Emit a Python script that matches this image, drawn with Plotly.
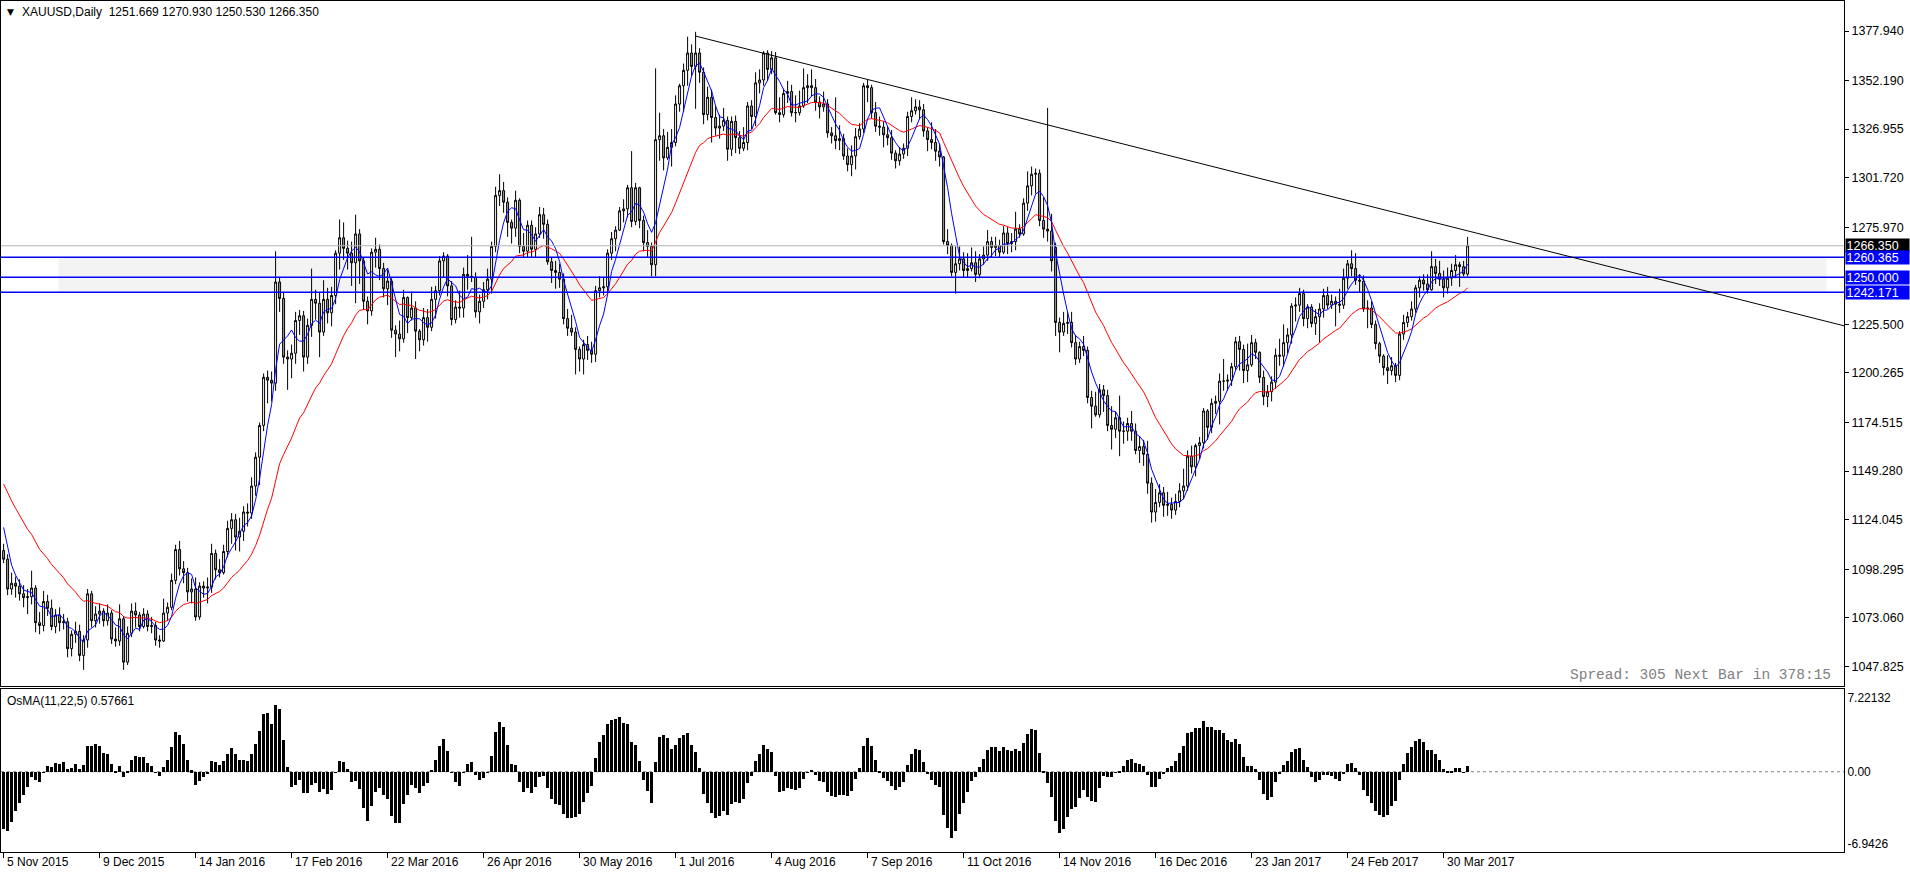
import numpy as np
import pandas as pd
import plotly.graph_objects as go

# ---------------- data ----------------
# off-screen closes (Sep 1 - Nov 4 2015) used only to warm up the indicators
pre_closes = [1139.5, 1133.5, 1124.5, 1121.0, 1121.5, 1121.0, 1108.5, 1110.5, 1107.5, 1108.5,
              1102.5, 1118.5, 1117.5, 1137.5, 1132.5, 1124.0, 1131.0, 1153.0, 1145.5, 1131.5,
              1126.5, 1114.5, 1113.5, 1137.0, 1137.5, 1146.0, 1146.0, 1143.0, 1156.5, 1163.0,
              1166.5, 1186.5, 1186.0, 1177.0, 1171.5, 1176.5, 1166.0, 1166.0, 1162.0, 1163.0,
              1166.5, 1156.0, 1146.5, 1142.0, 1135.5, 1115.0, 1104.0]

closes = [
 1103.5, 1088.0, 1091.0, 1089.5, 1085.5, 1083.5, 1084.0, 1088.5, 1070.5, 1069.0,
 1081.5, 1078.0, 1068.5, 1074.5, 1070.5, 1071.0, 1057.0, 1064.5, 1066.0, 1053.5,
 1061.5, 1085.5, 1071.5, 1075.0, 1076.5, 1071.5, 1075.5, 1062.0, 1061.0, 1072.5,
 1050.0, 1065.0, 1076.5, 1074.5, 1068.5, 1075.0, 1068.5, 1069.0, 1061.5, 1061.0,
 1075.5, 1078.5, 1092.5, 1108.5, 1098.5, 1096.5, 1086.5, 1088.0, 1073.5, 1089.5,
 1088.5, 1089.0, 1106.5, 1098.0, 1096.5, 1107.5, 1119.5, 1124.0, 1115.0, 1118.0,
 1128.0, 1127.5, 1141.5, 1156.5, 1173.0, 1198.0, 1196.5, 1195.0, 1247.5, 1239.0,
 1208.5, 1207.5, 1210.5, 1227.5, 1230.0, 1208.5, 1225.0, 1238.5, 1236.5, 1221.5,
 1238.5, 1231.5, 1240.5, 1262.5, 1270.5, 1265.0, 1262.5, 1257.5, 1272.5, 1258.5,
 1237.5, 1232.5, 1263.0, 1264.5, 1254.5, 1244.0, 1248.0, 1222.5, 1220.5, 1218.0,
 1239.5, 1229.0, 1234.0, 1222.0, 1217.5, 1229.0, 1224.0, 1238.5, 1243.0, 1258.5,
 1261.0, 1245.5, 1228.0, 1234.5, 1234.0, 1251.5, 1250.5, 1250.0, 1232.0, 1237.5,
 1243.5, 1249.0, 1266.0, 1292.5, 1295.0, 1289.0, 1278.5, 1275.5, 1290.0, 1266.0,
 1263.5, 1277.0, 1264.5, 1272.5, 1282.5, 1277.5, 1258.0, 1253.5, 1252.5, 1249.0,
 1228.5, 1223.5, 1221.5, 1212.5, 1207.5, 1215.0, 1212.0, 1210.0, 1243.0, 1244.5,
 1245.0, 1262.5, 1270.0, 1274.5, 1284.5, 1285.5, 1296.5, 1279.0, 1296.5, 1279.5,
 1268.0, 1266.0, 1256.5, 1321.5, 1323.5, 1312.0, 1317.5, 1320.0, 1340.0, 1349.5,
 1357.5, 1366.5, 1359.5, 1366.5, 1356.5, 1334.5, 1343.5, 1333.0, 1327.5, 1328.5,
 1331.5, 1316.5, 1331.0, 1322.5, 1317.0, 1320.0, 1339.0, 1333.5, 1351.0, 1352.5,
 1366.5, 1358.0, 1364.0, 1335.5, 1334.5, 1345.5, 1346.5, 1335.5, 1335.5, 1339.0,
 1348.5, 1349.5, 1348.5, 1341.0, 1338.5, 1340.0, 1325.0, 1323.5, 1321.0, 1322.0,
 1313.0, 1308.5, 1313.0, 1323.0, 1327.0, 1349.5, 1348.5, 1335.5, 1328.5, 1328.0,
 1324.0, 1322.5, 1314.5, 1310.5, 1314.0, 1317.0, 1333.5, 1336.5, 1338.5, 1337.0,
 1326.0, 1321.5, 1320.0, 1315.5, 1312.5, 1268.5, 1266.5, 1252.5, 1257.0, 1259.5,
 1253.5, 1254.5, 1257.5, 1251.5, 1259.5, 1261.5, 1268.5, 1265.5, 1266.5, 1263.0,
 1273.0, 1267.5, 1268.5, 1275.0, 1272.5, 1288.5, 1297.5, 1303.5, 1304.0, 1279.5,
 1275.0, 1274.0, 1258.5, 1226.5, 1221.5, 1226.0, 1226.5, 1216.0, 1207.5, 1214.0,
 1212.0, 1187.5, 1183.0, 1178.5, 1191.5, 1188.5, 1173.0, 1171.0, 1177.0, 1170.0,
 1170.0, 1174.0, 1170.0, 1160.0, 1162.0, 1158.0, 1143.0, 1128.0, 1133.0, 1138.0,
 1131.5, 1132.0, 1129.0, 1133.5, 1139.0, 1141.5, 1157.0, 1151.5, 1162.5, 1164.0,
 1180.5, 1172.0, 1184.5, 1185.5, 1196.0, 1196.0, 1196.5, 1203.5, 1216.5, 1212.5,
 1201.5, 1204.5, 1216.0, 1211.0, 1198.0, 1188.0, 1190.5, 1195.5, 1209.5, 1209.0,
 1216.0, 1220.0, 1235.0, 1235.5, 1241.5, 1228.5, 1234.5, 1226.0, 1229.5, 1233.5,
 1240.5, 1235.5, 1237.5, 1236.0, 1235.5, 1249.5, 1257.0, 1254.5, 1248.5, 1248.0,
 1233.5, 1234.0, 1225.5, 1215.5, 1209.0, 1203.0, 1201.5, 1204.0, 1199.0, 1220.5,
 1226.5, 1229.5, 1233.5, 1244.5, 1248.5, 1246.5, 1243.5, 1255.5, 1252.0, 1249.0,
 1244.5, 1249.5, 1253.5, 1256.5, 1255.5, 1251.7, 1266.35]

opens = [
 1108.0, 1103.5, 1088.0, 1091.0, 1089.5, 1085.5, 1083.5, 1084.0, 1088.5, 1070.5,
 1069.0, 1081.5, 1078.0, 1068.5, 1074.5, 1070.5, 1071.0, 1057.0, 1064.5, 1066.0,
 1053.5, 1061.5, 1085.5, 1071.5, 1075.0, 1076.5, 1071.5, 1075.5, 1062.0, 1061.0,
 1072.5, 1050.0, 1065.0, 1076.5, 1074.5, 1068.5, 1075.0, 1068.5, 1069.0, 1061.5,
 1061.0, 1075.5, 1078.5, 1092.5, 1108.5, 1098.5, 1096.5, 1086.5, 1088.0, 1073.5,
 1089.5, 1088.5, 1089.0, 1106.5, 1098.0, 1096.5, 1107.5, 1119.5, 1124.0, 1115.0,
 1118.0, 1128.0, 1127.5, 1141.5, 1156.5, 1173.0, 1198.0, 1196.5, 1195.0, 1247.5,
 1239.0, 1208.5, 1207.5, 1210.5, 1227.5, 1230.0, 1208.5, 1225.0, 1238.5, 1236.5,
 1221.5, 1238.5, 1231.5, 1240.5, 1262.5, 1270.5, 1265.0, 1262.5, 1257.5, 1272.5,
 1258.5, 1237.5, 1232.5, 1263.0, 1264.5, 1254.5, 1244.0, 1248.0, 1222.5, 1220.5,
 1218.0, 1239.5, 1229.0, 1234.0, 1222.0, 1217.5, 1229.0, 1224.0, 1238.5, 1243.0,
 1258.5, 1261.0, 1245.5, 1228.0, 1234.5, 1234.0, 1251.5, 1250.5, 1250.0, 1232.0,
 1237.5, 1243.5, 1249.0, 1266.0, 1292.5, 1295.0, 1289.0, 1278.5, 1275.5, 1290.0,
 1266.0, 1263.5, 1277.0, 1264.5, 1272.5, 1282.5, 1277.5, 1258.0, 1253.5, 1252.5,
 1249.0, 1228.5, 1223.5, 1221.5, 1212.5, 1207.5, 1215.0, 1212.0, 1210.0, 1243.0,
 1244.5, 1245.0, 1262.5, 1270.0, 1274.5, 1284.5, 1285.5, 1296.5, 1279.0, 1296.5,
 1279.5, 1268.0, 1266.0, 1256.5, 1321.5, 1323.5, 1312.0, 1317.5, 1320.0, 1340.0,
 1349.5, 1357.5, 1366.5, 1359.5, 1366.5, 1356.5, 1334.5, 1343.5, 1333.0, 1327.5,
 1328.5, 1331.5, 1316.5, 1331.0, 1322.5, 1317.0, 1320.0, 1339.0, 1333.5, 1351.0,
 1352.5, 1366.5, 1358.0, 1364.0, 1335.5, 1334.5, 1345.5, 1346.5, 1335.5, 1335.5,
 1339.0, 1348.5, 1349.5, 1348.5, 1341.0, 1338.5, 1340.0, 1325.0, 1323.5, 1321.0,
 1322.0, 1313.0, 1308.5, 1313.0, 1323.0, 1327.0, 1349.5, 1348.5, 1335.5, 1328.5,
 1328.0, 1324.0, 1322.5, 1314.5, 1310.5, 1314.0, 1317.0, 1333.5, 1336.5, 1338.5,
 1337.0, 1326.0, 1321.5, 1320.0, 1315.5, 1312.5, 1268.5, 1266.5, 1252.5, 1257.0,
 1259.5, 1253.5, 1254.5, 1257.5, 1251.5, 1259.5, 1261.5, 1268.5, 1265.5, 1266.5,
 1263.0, 1273.0, 1267.5, 1268.5, 1275.0, 1272.5, 1288.5, 1297.5, 1303.5, 1304.0,
 1279.5, 1275.0, 1274.0, 1265.5, 1226.5, 1221.5, 1226.0, 1226.5, 1216.0, 1207.5,
 1214.0, 1212.0, 1187.5, 1183.0, 1178.5, 1191.5, 1188.5, 1173.0, 1171.0, 1177.0,
 1170.0, 1170.0, 1174.0, 1170.0, 1160.0, 1162.0, 1158.0, 1143.0, 1128.0, 1133.0,
 1138.0, 1131.5, 1132.0, 1129.0, 1133.5, 1139.0, 1141.5, 1157.0, 1151.5, 1162.5,
 1164.0, 1180.5, 1172.0, 1184.5, 1185.5, 1196.0, 1196.0, 1196.5, 1203.5, 1216.5,
 1212.5, 1201.5, 1204.5, 1216.0, 1211.0, 1198.0, 1188.0, 1190.5, 1195.5, 1209.5,
 1209.0, 1216.0, 1220.0, 1235.0, 1235.5, 1241.5, 1228.5, 1234.5, 1226.0, 1229.5,
 1233.5, 1240.5, 1235.5, 1237.5, 1236.0, 1235.5, 1249.5, 1257.0, 1254.5, 1248.5,
 1248.0, 1233.5, 1234.0, 1225.5, 1215.5, 1209.0, 1203.0, 1201.5, 1204.0, 1199.0,
 1220.5, 1226.5, 1229.5, 1233.5, 1244.5, 1248.5, 1246.5, 1243.5, 1255.5, 1252.0,
 1249.0, 1244.5, 1249.5, 1253.5, 1256.5, 1255.5, 1251.669]

highs = [
 1111.5, 1106.0, 1096.5, 1094.5, 1093.0, 1090.0, 1088.0, 1097.5, 1090.0, 1076.0,
 1087.0, 1085.0, 1082.5, 1077.5, 1078.5, 1075.0, 1073.0, 1066.5, 1071.0, 1069.5,
 1064.0, 1088.0, 1087.0, 1079.0, 1080.5, 1078.0, 1080.0, 1077.0, 1068.0, 1080.0,
 1074.0, 1068.5, 1080.5, 1081.0, 1076.0, 1078.0, 1077.0, 1073.5, 1071.0, 1064.0,
 1083.0, 1081.0, 1096.0, 1111.0, 1113.0, 1102.5, 1099.0, 1093.5, 1094.0, 1091.5,
 1092.0, 1094.0, 1111.5, 1108.5, 1103.5, 1111.0, 1123.5, 1127.5, 1127.0, 1125.0,
 1131.0, 1132.5, 1146.0, 1159.0, 1174.5, 1200.0, 1201.5, 1201.0, 1263.5, 1250.0,
 1242.0, 1212.0, 1215.0, 1232.0, 1233.0, 1232.5, 1228.5, 1254.5, 1243.5, 1242.0,
 1248.5, 1244.5, 1245.0, 1264.0, 1280.0, 1278.5, 1269.0, 1268.5, 1282.5, 1275.0,
 1260.0, 1240.0, 1265.0, 1270.5, 1267.0, 1257.5, 1254.0, 1249.5, 1225.0, 1227.5,
 1243.5, 1240.0, 1242.5, 1237.5, 1223.0, 1234.0, 1233.5, 1245.0, 1245.5, 1261.0,
 1263.0, 1262.0, 1248.0, 1238.0, 1243.0, 1255.0, 1261.5, 1271.0, 1252.5, 1241.0,
 1247.5, 1254.5, 1268.5, 1297.0, 1303.5, 1299.5, 1291.5, 1280.0, 1295.0, 1291.0,
 1273.0, 1279.5, 1279.5, 1276.0, 1286.5, 1286.0, 1280.0, 1260.0, 1258.5, 1257.0,
 1252.0, 1233.5, 1230.5, 1224.0, 1214.0, 1217.5, 1219.5, 1216.5, 1245.5, 1250.5,
 1250.0, 1264.5, 1273.5, 1276.5, 1286.5, 1290.5, 1298.0, 1315.5, 1299.0, 1297.0,
 1282.0, 1274.5, 1268.0, 1358.5, 1335.5, 1327.0, 1325.5, 1327.0, 1344.5, 1350.5,
 1361.0, 1375.0, 1371.0, 1377.5, 1369.0, 1359.0, 1349.0, 1347.5, 1339.0, 1334.5,
 1338.0, 1333.5, 1333.5, 1334.0, 1326.0, 1328.0, 1341.0, 1342.0, 1356.5, 1358.0,
 1367.5, 1368.0, 1367.5, 1367.0, 1343.5, 1348.0, 1352.0, 1350.0, 1344.5, 1347.0,
 1358.5, 1355.5, 1358.0, 1353.0, 1344.0, 1346.5, 1342.5, 1328.0, 1343.5, 1329.0,
 1324.5, 1317.0, 1318.5, 1327.5, 1330.0, 1351.0, 1352.5, 1350.0, 1341.0, 1333.5,
 1331.0, 1328.5, 1326.5, 1316.0, 1317.5, 1319.5, 1336.0, 1343.5, 1342.5, 1342.0,
 1340.0, 1328.0, 1330.5, 1327.0, 1319.5, 1313.0, 1275.0, 1267.5, 1266.0, 1266.0,
 1263.0, 1262.5, 1265.5, 1263.5, 1262.0, 1266.0, 1274.5, 1271.0, 1271.0, 1269.5,
 1276.5, 1276.0, 1273.0, 1284.0, 1277.5, 1291.0, 1305.0, 1307.5, 1306.5, 1306.0,
 1291.5, 1338.0, 1283.0, 1268.0, 1229.0, 1232.0, 1232.0, 1232.0, 1220.0, 1216.5,
 1219.5, 1214.0, 1191.0, 1190.5, 1194.5, 1194.0, 1191.5, 1183.0, 1180.0, 1188.5,
 1175.0, 1177.0, 1180.5, 1174.0, 1167.5, 1165.5, 1165.0, 1146.0, 1140.0, 1142.5,
 1141.0, 1138.5, 1135.5, 1137.5, 1143.0, 1150.5, 1160.0, 1162.5, 1163.5, 1167.0,
 1182.0, 1181.5, 1187.0, 1188.5, 1200.0, 1207.5, 1199.5, 1205.5, 1219.0, 1219.5,
 1215.0, 1215.5, 1220.0, 1218.0, 1211.5, 1201.5, 1194.0, 1198.5, 1213.0, 1218.0,
 1225.5, 1223.5, 1236.5, 1239.5, 1244.5, 1243.5, 1236.0, 1236.0, 1233.5, 1236.5,
 1244.0, 1245.0, 1241.0, 1240.0, 1244.0, 1254.5, 1259.0, 1264.0, 1262.5, 1251.5,
 1251.0, 1238.0, 1237.5, 1227.5, 1216.5, 1210.0, 1209.5, 1208.5, 1205.5, 1222.0,
 1230.5, 1232.0, 1237.5, 1246.0, 1250.5, 1251.5, 1251.5, 1263.5, 1259.5, 1258.5,
 1253.5, 1255.0, 1257.0, 1261.5, 1258.0, 1258.5, 1270.93]

lows = [
 1101.5, 1084.8, 1085.0, 1083.5, 1082.0, 1078.5, 1075.0, 1080.0, 1065.5, 1064.5,
 1066.0, 1074.0, 1066.5, 1065.0, 1066.0, 1067.0, 1052.5, 1053.0, 1060.0, 1050.5,
 1046.0, 1057.5, 1068.0, 1068.0, 1070.0, 1068.5, 1069.0, 1059.5, 1058.0, 1058.5,
 1046.0, 1048.5, 1063.0, 1068.0, 1066.0, 1067.5, 1066.0, 1065.0, 1058.5, 1057.5,
 1060.5, 1071.5, 1077.0, 1090.5, 1095.0, 1091.0, 1081.5, 1080.5, 1071.5, 1072.0,
 1083.5, 1080.5, 1086.0, 1093.0, 1094.0, 1095.5, 1104.5, 1111.5, 1108.0, 1107.5,
 1113.0, 1120.5, 1124.5, 1136.5, 1142.0, 1170.0, 1184.5, 1185.5, 1191.0, 1232.0,
 1205.0, 1191.5, 1197.5, 1205.0, 1220.0, 1201.0, 1205.0, 1219.0, 1228.0, 1208.5,
 1219.5, 1226.0, 1224.5, 1236.0, 1254.0, 1259.0, 1254.0, 1245.5, 1236.5, 1246.5,
 1233.0, 1225.5, 1230.0, 1255.0, 1248.5, 1239.5, 1235.5, 1218.5, 1208.5, 1211.5,
 1216.0, 1221.0, 1227.5, 1207.5, 1211.5, 1214.5, 1216.5, 1222.0, 1228.5, 1240.5,
 1250.0, 1240.0, 1225.0, 1226.0, 1229.0, 1229.0, 1243.5, 1247.5, 1229.0, 1226.0,
 1234.0, 1238.5, 1241.5, 1263.0, 1287.0, 1283.5, 1271.0, 1267.5, 1271.0, 1262.5,
 1260.5, 1260.0, 1260.0, 1260.5, 1270.5, 1270.0, 1256.5, 1247.0, 1244.0, 1244.5,
 1225.5, 1219.5, 1219.5, 1199.5, 1201.0, 1199.5, 1207.0, 1205.5, 1206.0, 1239.5,
 1240.5, 1241.5, 1259.0, 1263.5, 1274.0, 1278.5, 1281.0, 1276.0, 1277.0, 1275.5,
 1263.5, 1260.0, 1250.5, 1250.5, 1310.5, 1305.5, 1311.0, 1307.5, 1318.0, 1336.0,
 1336.0, 1349.5, 1354.5, 1337.5, 1351.0, 1329.5, 1331.5, 1320.0, 1323.5, 1322.0,
 1326.0, 1310.5, 1313.0, 1314.5, 1314.0, 1315.5, 1316.0, 1327.0, 1328.5, 1345.5,
 1349.5, 1352.0, 1355.5, 1334.5, 1330.5, 1333.0, 1340.5, 1333.5, 1330.5, 1334.0,
 1338.0, 1340.5, 1344.0, 1336.5, 1332.5, 1336.0, 1322.5, 1319.5, 1316.5, 1316.0,
 1311.0, 1305.0, 1302.5, 1306.0, 1321.5, 1325.0, 1341.0, 1332.5, 1325.5, 1323.5,
 1317.5, 1318.5, 1311.0, 1306.5, 1308.0, 1311.5, 1313.0, 1330.5, 1334.5, 1332.0,
 1323.0, 1315.5, 1316.5, 1310.5, 1307.5, 1267.0, 1262.0, 1250.5, 1241.5, 1253.5,
 1250.0, 1250.0, 1253.0, 1247.5, 1249.5, 1256.5, 1258.5, 1260.0, 1261.0, 1260.5,
 1262.0, 1262.0, 1263.0, 1264.0, 1270.5, 1271.5, 1284.5, 1292.5, 1293.5, 1276.5,
 1270.5, 1268.5, 1253.0, 1219.5, 1211.0, 1219.5, 1220.5, 1213.5, 1204.5, 1205.5,
 1209.0, 1184.5, 1171.5, 1177.5, 1177.0, 1180.0, 1170.0, 1160.5, 1166.5, 1157.0,
 1163.5, 1165.0, 1165.0, 1158.0, 1153.5, 1152.0, 1137.5, 1122.5, 1123.0, 1130.5,
 1125.5, 1126.0, 1124.5, 1126.5, 1130.5, 1134.5, 1139.0, 1148.0, 1146.5, 1155.5,
 1161.0, 1165.5, 1169.0, 1179.0, 1173.5, 1191.0, 1191.0, 1193.5, 1201.5, 1201.5,
 1195.0, 1195.5, 1203.5, 1207.5, 1195.0, 1183.5, 1182.5, 1185.5, 1192.0, 1204.0,
 1203.5, 1210.5, 1215.5, 1227.0, 1232.0, 1224.5, 1223.5, 1224.0, 1220.0, 1216.0,
 1229.0, 1233.5, 1233.5, 1224.5, 1231.5, 1233.5, 1244.0, 1250.5, 1246.0, 1242.0,
 1232.0, 1223.5, 1223.5, 1212.5, 1205.5, 1199.0, 1194.5, 1199.0, 1195.5, 1196.5,
 1217.5, 1224.0, 1227.5, 1231.5, 1239.5, 1243.0, 1241.5, 1243.0, 1246.5, 1245.5,
 1239.5, 1241.5, 1245.5, 1249.5, 1245.0, 1250.5, 1250.53]

# x-axis labels (one every 24 daily bars)
date_tick_bars = [0, 24, 48, 72, 96, 120, 144, 168, 192, 216, 240, 264, 288, 312, 336, 360]
date_tick_labels = ["5 Nov 2015", "9 Dec 2015", "14 Jan 2016", "17 Feb 2016", "22 Mar 2016",
                    "26 Apr 2016", "30 May 2016", "1 Jul 2016", "4 Aug 2016", "7 Sep 2016",
                    "11 Oct 2016", "14 Nov 2016", "16 Dec 2016", "23 Jan 2017", "24 Feb 2017",
                    "30 Mar 2017"]
price_ticks = [1377.940, 1352.190, 1326.955, 1301.720, 1275.970, 1225.500, 1200.265,
               1174.515, 1149.280, 1124.045, 1098.295, 1073.060, 1047.825]
price_tick_labels = ["1377.940", "1352.190", "1326.955", "1301.720", "1275.970", "1225.500",
                     "1200.265", "1174.515", "1149.280", "1124.045", "1098.295", "1073.060",
                     "1047.825"]
osma_ticks = [7.22132, 0.0, -6.9426]
osma_tick_labels = ["7.22132", "0.00", "-6.9426"]

blue_levels = [1260.365, 1250.000, 1242.171]
blue_level_labels = ["1260.365", "1250.000", "1242.171"]
zone_bars = [13.7, 455.7]
zone_prices = [1242.171, 1260.365]
trend_bars = [173, 366]
trend_prices = [1375.3, 1274.1]

title_text = "XAUUSD,Daily\u00a0\u00a01251.669 1270.930 1250.530 1266.350"
osma_text = "OsMA(11,22,5) 0.57661"
spread_text = "Spread: 305 Next Bar in 378:15"

# ---------------- indicators ----------------
n = len(closes)
allc = np.array(pre_closes + closes, dtype=float)
npre = len(pre_closes)


def ema(a, p):
    k = 2.0 / (p + 1)
    out = np.empty_like(a)
    out[0] = a[0]
    for i in range(1, len(a)):
        out[i] = out[i - 1] + k * (a[i] - out[i - 1])
    return out


sma5 = pd.Series(allc).rolling(5).mean().values[npre:]
ema22 = ema(allc, 22)[npre:]
macd = ema(allc, 11) - ema(allc, 22)
signal = pd.Series(macd).rolling(5).mean().values
osma = (macd - signal)[npre:]

bars = np.arange(n)

# ---------------- geometry ----------------
W, H = 1910, 874
ML, MR, MT, MB = 1, 66, 1, 22
PW, PH = W - ML - MR, H - MT - MB


def fx(px):
    return (px - ML) / PW


def fy(px):
    return 1 - (px - MT) / PH


X0 = -(3.6 - ML) / 4.0
X1 = X0 + PW / 4.0
MAIN_TOP, MAIN_BOT = 1, 686
OS_TOP, OS_BOT = 688.5, 852
SLOPE = 0.5196
P_TOP = 1377.94 + (31 - MAIN_TOP) * SLOPE
P_BOT = 1377.94 - (MAIN_BOT - 31) * SLOPE
OS_SCALE = 10.31
OS_TOPV = 7.22132 + (697.3 - OS_TOP) / OS_SCALE
OS_BOTV = -6.9426 - (OS_BOT - 843.3) / OS_SCALE

FONT = "Liberation Sans"

fig = go.Figure()

fig.add_trace(go.Candlestick(
    x=bars, open=opens, high=highs, low=lows, close=closes,
    increasing=dict(line=dict(color="black", width=1), fillcolor="white"),
    decreasing=dict(line=dict(color="black", width=1), fillcolor="#a0a0a0"),
    whiskerwidth=0, xaxis="x", yaxis="y", showlegend=False, hoverinfo="skip"))
fig.add_trace(go.Scatter(x=bars, y=ema22, mode="lines", line=dict(color="#ff0000", width=1),
                         xaxis="x", yaxis="y", showlegend=False, hoverinfo="skip"))
fig.add_trace(go.Scatter(x=bars, y=sma5, mode="lines", line=dict(color="#0000ff", width=1),
                         xaxis="x", yaxis="y", showlegend=False, hoverinfo="skip"))

fig.add_trace(go.Bar(x=bars, y=osma, width=0.72, marker=dict(color="black", line=dict(width=0)),
                     xaxis="x2", yaxis="y2", showlegend=False, hoverinfo="skip"))

shapes = []
# support zone rectangle
shapes.append(dict(type="rect", xref="x", yref="y", x0=zone_bars[0], x1=zone_bars[1],
                   y0=zone_prices[0], y1=zone_prices[1], fillcolor="#f3f3f3",
                   line=dict(width=0), layer="below"))
# current price line
shapes.append(dict(type="line", xref="x domain", yref="y", x0=0, x1=1,
                   y0=closes[-1], y1=closes[-1], line=dict(color="#b4b4b4", width=1)))
for lv in blue_levels:
    shapes.append(dict(type="line", xref="x domain", yref="y", x0=0, x1=1, y0=lv, y1=lv,
                       line=dict(color="#0000ff", width=1.4)))
# trend line (ray to the right edge)
tslope = (trend_prices[1] - trend_prices[0]) / (trend_bars[1] - trend_bars[0])
shapes.append(dict(type="line", xref="x", yref="y", x0=trend_bars[0], y0=trend_prices[0],
                   x1=X1, y1=trend_prices[0] + tslope * (X1 - trend_bars[0]),
                   line=dict(color="black", width=1)))
# OsMA zero level
shapes.append(dict(type="line", xref="x2 domain", yref="y2", x0=0, x1=1, y0=0, y1=0,
                   line=dict(color="#808080", width=1, dash="3px,3px"), layer="below"))

ann = []
ann.append(dict(xref="paper", yref="paper", x=fx(5), y=fy(12), xanchor="left", yanchor="middle",
                text="\u25bc", showarrow=False, font=dict(family="DejaVu Sans", size=9, color="black")))
ann.append(dict(xref="paper", yref="paper", x=fx(20), y=fy(12), xanchor="left", yanchor="middle",
                text=title_text, showarrow=False, font=dict(family=FONT, size=12, color="black")))
ann.append(dict(xref="paper", yref="paper", x=fx(5), y=fy(701), xanchor="left", yanchor="middle",
                text=osma_text, showarrow=False, font=dict(family=FONT, size=12, color="black")))
ann.append(dict(xref="paper", yref="paper", x=fx(1833), y=fy(675), xanchor="right", yanchor="middle",
                text=spread_text, showarrow=False,
                font=dict(family="Liberation Mono", size=14.5, color="#808080")))
for b, lab in zip(date_tick_bars, date_tick_labels):
    ann.append(dict(xref="x2", yref="paper", x=b, y=fy(862), xanchor="left", yanchor="middle",
                    xshift=1, text=lab, showarrow=False, font=dict(family=FONT, size=12, color="black")))
# price tags on the right axis
tags = [(closes[-1], "%.3f" % closes[-1], "#000000")] + \
       [(v, t, "#0000ff") for v, t in zip(blue_levels, blue_level_labels)]
for v, t, c in tags:
    ann.append(dict(xref="paper", yref="y", x=fx(1845), y=v, xanchor="left", yanchor="middle",
                    text=t, showarrow=False, bgcolor=c, width=62, height=12, align="left",
                    borderpad=0.5, font=dict(family=FONT, size=12.5, color="white")))

fig.update_layout(
    width=W, height=H, margin=dict(l=ML, r=MR, t=MT, b=MB),
    paper_bgcolor="white", plot_bgcolor="white", showlegend=False, bargap=0,
    shapes=shapes, annotations=ann,
    xaxis=dict(domain=[0, 1], anchor="y", range=[X0, X1], showticklabels=False, ticks="",
               showgrid=False, zeroline=False, showline=True, mirror=True, linecolor="black",
               linewidth=1, rangeslider=dict(visible=False), fixedrange=True),
    yaxis=dict(domain=[fy(MAIN_BOT), fy(MAIN_TOP)], anchor="x", side="right",
               range=[P_BOT, P_TOP], tickmode="array", tickvals=price_ticks,
               ticktext=price_tick_labels, ticks="outside", ticklen=4, tickcolor="black",
               showgrid=False, zeroline=False, showline=True, mirror=True, linecolor="black",
               linewidth=1, tickfont=dict(family=FONT, size=12.5, color="black")),
    xaxis2=dict(domain=[0, 1], anchor="y2", range=[X0, X1], tickmode="array",
                tickvals=date_tick_bars, ticktext=[""] * len(date_tick_bars), ticks="outside",
                ticklen=5, tickcolor="black", showgrid=False, zeroline=False, showline=True,
                mirror=True, linecolor="black", linewidth=1),
    yaxis2=dict(domain=[fy(OS_BOT), fy(OS_TOP)], anchor="x2", side="right",
                range=[OS_BOTV, OS_TOPV], tickmode="array", tickvals=osma_ticks,
                ticktext=osma_tick_labels, ticks="", showgrid=False, zeroline=False,
                showline=True, mirror=True, linecolor="black", linewidth=1,
                tickfont=dict(family=FONT, size=12, color="black")),
)

fig.write_html("out.html")
